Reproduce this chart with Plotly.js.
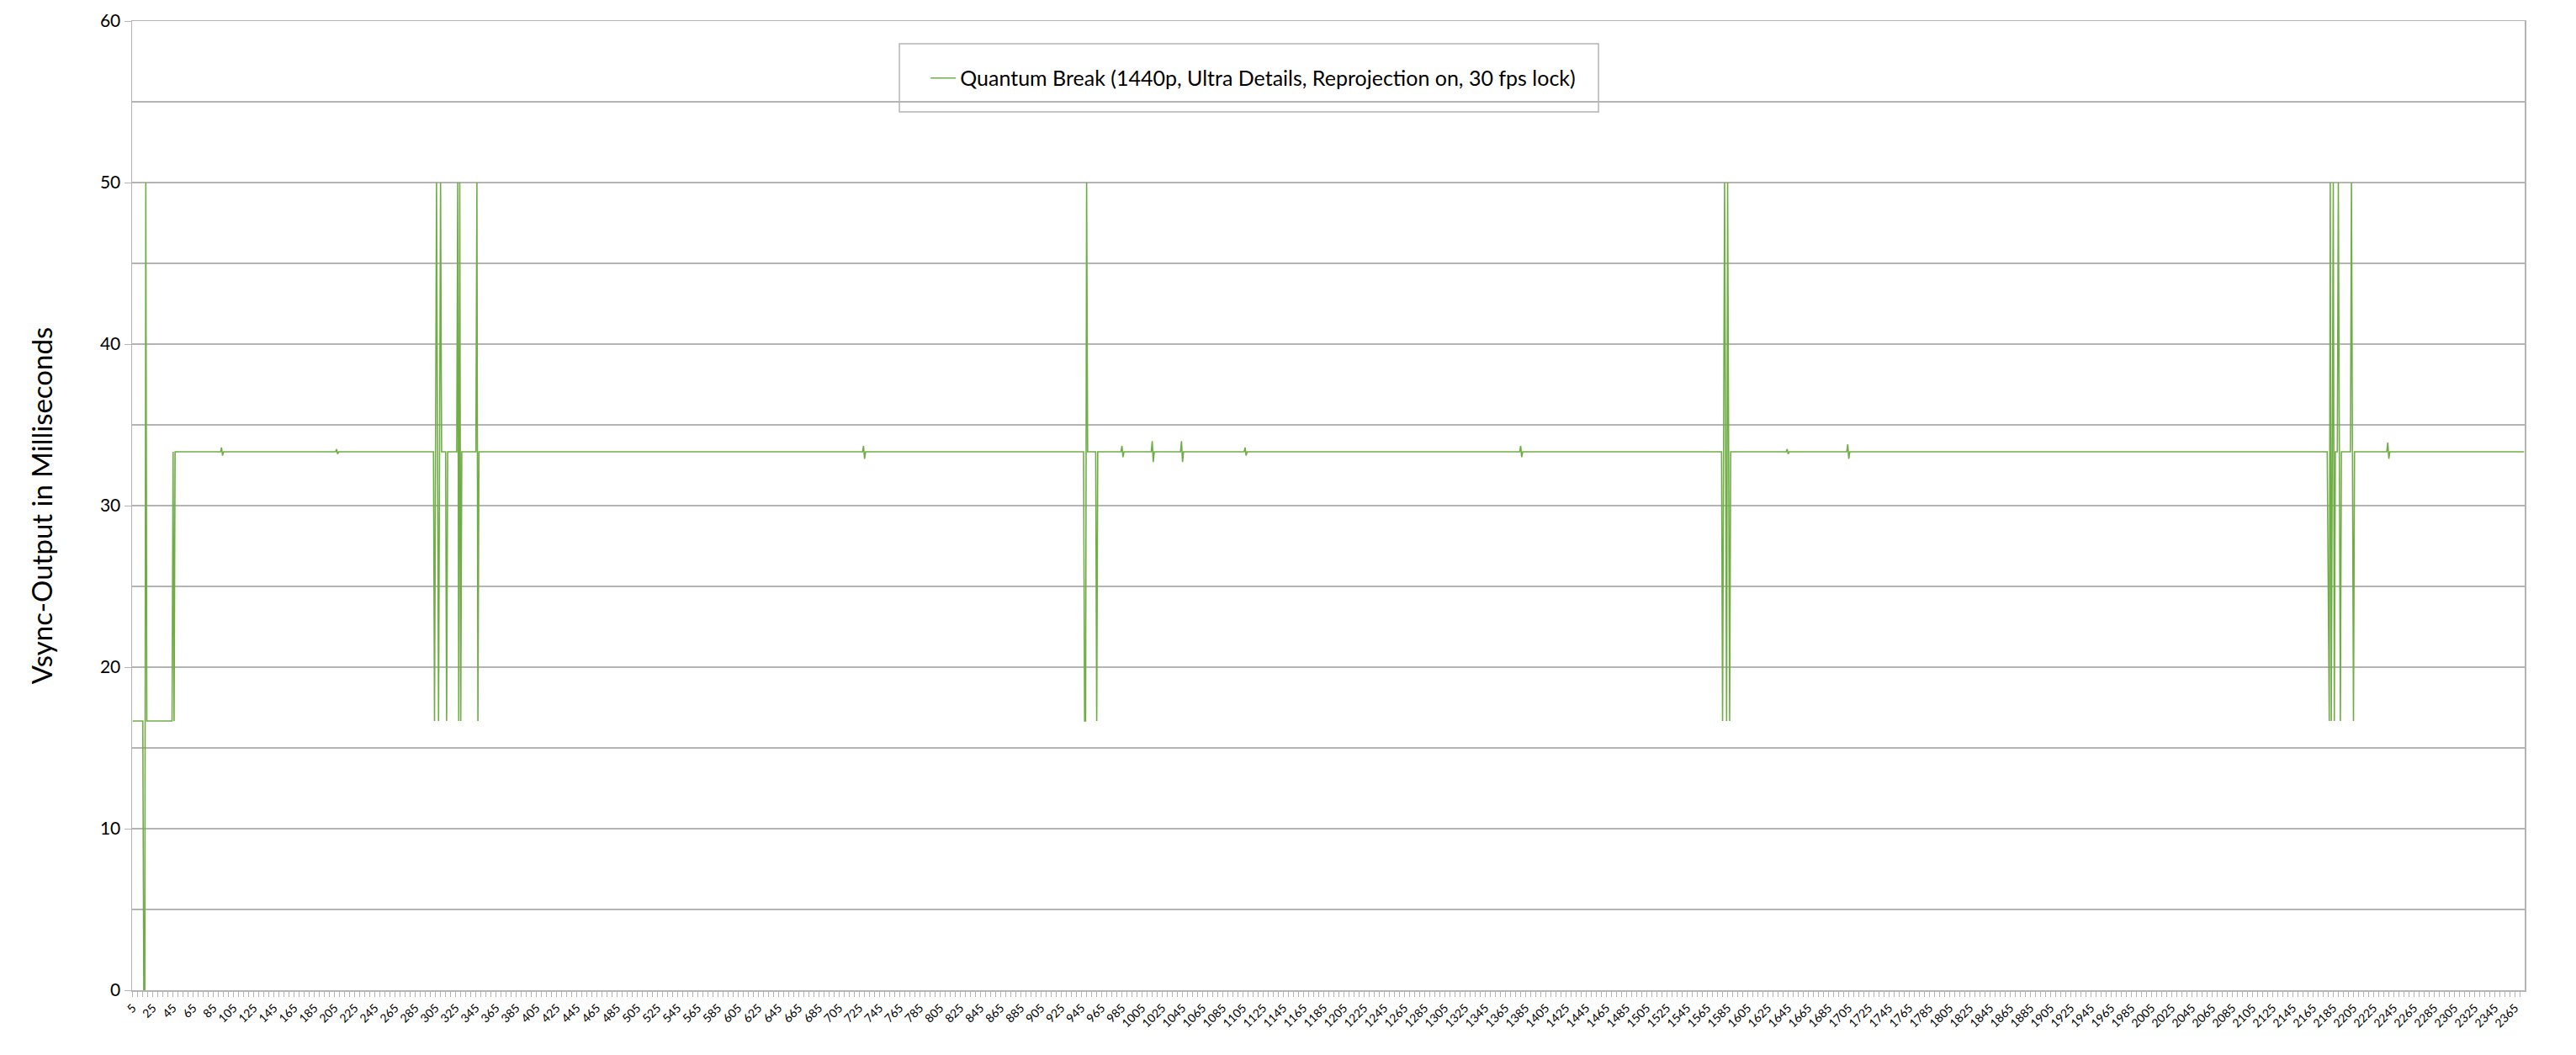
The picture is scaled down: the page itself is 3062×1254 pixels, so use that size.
<!DOCTYPE html>
<html>
<head>
<meta charset="utf-8">
<script src="https://cdn.plot.ly/plotly-3.0.1.min.js"></script>
<style>
  html, body { margin: 0; padding: 0; background: #ffffff; }
  #vsync_plot { width: 3062px; height: 1254px; }
</style>
</head>
<body>
<div id="vsync_plot"></div>
<script>
// Frame numbers where the value changes (flat stretches in between)
var frames = [
  5, 15, 16, 17, 18, 19, 44, 45, 46, 47,
  92, 93, 94, 95, 206, 207, 208, 209,
  303, 304, 306, 308, 310, 311, 315, 316, 317, 326, 327, 328, 329, 330, 331, 345, 346, 347, 348,
  728, 729, 730, 731,
  947, 948, 949, 950, 951, 959, 960, 961,
  984, 985, 986, 987, 1014, 1015, 1016, 1017, 1043, 1044, 1045, 1046,
  1106, 1107, 1108, 1109, 1379, 1380, 1381, 1382,
  1579, 1580, 1582, 1584, 1585, 1587, 1588,
  1643, 1644, 1645, 1646, 1703, 1704, 1705, 1706,
  2179, 2181, 2182, 2183, 2185, 2186, 2187, 2189, 2190, 2192, 2193, 2202, 2203, 2205, 2206,
  2238, 2239, 2240, 2241, 2374
];

// Vsync output in ms at those frames
var vsync = [
  16.67, 16.67, 0, 0, 50, 16.67, 16.67, 33.33, 16.67, 33.33,
  33.33, 33.6, 33.1, 33.33, 33.33, 33.5, 33.2, 33.33,
  33.33, 16.67, 50, 16.67, 50, 33.33, 33.33, 16.67, 33.33, 33.33, 50, 16.67, 50, 16.67, 33.33, 33.33, 50, 16.67, 33.33,
  33.33, 33.7, 32.9, 33.33,
  33.33, 16.67, 16.67, 50, 33.33, 33.33, 16.67, 33.33,
  33.33, 33.7, 33.0, 33.33, 33.33, 34.0, 32.7, 33.33, 33.33, 34.0, 32.7, 33.33,
  33.33, 33.6, 33.1, 33.33, 33.33, 33.7, 33.0, 33.33,
  33.33, 16.67, 50, 16.67, 50, 16.67, 33.33,
  33.33, 33.5, 33.2, 33.33, 33.33, 33.8, 32.9, 33.33,
  33.33, 16.67, 50, 16.67, 50, 16.67, 33.33, 33.33, 50, 16.67, 33.33, 33.33, 50, 16.67, 33.33,
  33.33, 33.9, 32.9, 33.33, 33.33
];

var seriesName = 'Quantum Break (1440p, Ultra Details, Reprojection on, 30 fps lock)';
var yTicks = [0, 10, 20, 30, 40, 50, 60];

var trace1 = {
  x: frames,
  y: vsync,
  name: seriesName,
  type: 'scatter',
  mode: 'lines',
  line: { color: '#70ad47', width: 1.6 },
  showlegend: true
};

var gridCol = '#b4b4b4';

var layout = {
  width: 3062,
  height: 1254,
  margin: { l: 157, r: 61, t: 25, b: 77 },
  paper_bgcolor: '#ffffff',
  plot_bgcolor: '#ffffff',
  font: { family: 'Lato, "Open Sans", sans-serif', color: '#000000' },
  showlegend: true,
  legend: {
    orientation: 'h',
    x: 0.332,
    xanchor: 'left',
    y: 0.941,
    yanchor: 'middle',
    bgcolor: 'rgba(0,0,0,0)',
    borderwidth: 0,
    font: { size: 25, family: 'Lato, sans-serif' }
  },
  shapes: [{
    type: 'rect',
    xref: 'paper', yref: 'paper',
    x0: 0.3207, x1: 0.6129, y0: 0.9063, y1: 0.9766,
    line: { color: gridCol, width: 1.5 },
    fillcolor: '#ffffff',
    layer: 'below'
  }],
  xaxis: {
    range: [4.4, 2374.6],
    tick0: 5,
    dtick: 20,
    tickangle: -45,
    ticks: 'outside',
    ticklen: 6,
    tickcolor: gridCol,
    tickfont: { size: 14, family: 'Lato, sans-serif' },
    showgrid: false,
    zeroline: false,
    showline: true,
    linecolor: gridCol,
    linewidth: 1.5,
    mirror: true,
    minor: { dtick: 5, tick0: 5, ticks: 'outside', ticklen: 6, tickcolor: gridCol }
  },
  yaxis: {
    range: [0, 60],
    tickvals: yTicks,
    ticks: 'outside',
    ticklen: 8,
    tickcolor: gridCol,
    tickfont: { size: 21, family: 'Lato, sans-serif' },
    showgrid: true,
    gridcolor: gridCol,
    gridwidth: 1.3,
    zeroline: false,
    showline: true,
    linecolor: gridCol,
    linewidth: 1.5,
    mirror: true,
    minor: { dtick: 5, showgrid: true, gridcolor: gridCol, gridwidth: 1.3, ticks: '' },
    title: {
      text: 'Vsync-Output in Milliseconds',
      font: { size: 33, family: 'Lato, sans-serif' },
      standoff: 46
    }
  }
};

Plotly.newPlot('vsync_plot', [trace1], layout, { staticPlot: true });
</script>
</body>
</html>
